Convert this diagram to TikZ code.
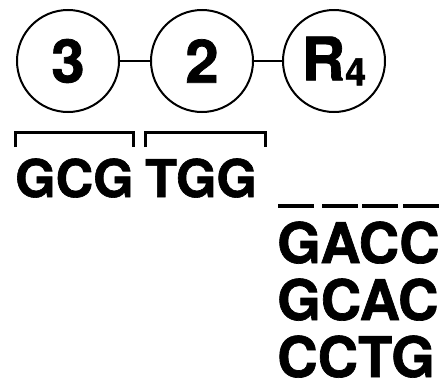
\documentclass[tikz,border=0pt]{standalone}
\usepackage{fontspec}
\setmainfont{TeX Gyre Heros}[BoldFeatures={FakeBold=1.2}]
\tikzset{
  ring/.style={circle,draw,line width=2pt,minimum size=102pt,inner sep=0pt,
    font=\bfseries\fontsize{60}{60}\selectfont},
  seq/.style={anchor=base west,inner sep=0pt,font=\bfseries\fontsize{52}{52}\selectfont},
  codon/.style={anchor=base west,inner sep=0pt,font=\bfseries\fontsize{56}{56}\selectfont},
  bracket/.style={line width=3pt},
  blank/.style={line width=4pt}
}
\begin{document}
\begin{tikzpicture}[x=1pt,y=-1pt]
  \useasboundingbox (0,0) rectangle (444,391);
  \draw
    (68,61) node[ring] (3){\raisebox{-4pt}{3}}
    (202,61) node[ring] (2){\raisebox{-4pt}{2}}
    (334,61) node[ring] (R){\raisebox{-4pt}{R\raisebox{-5pt}{\fontsize{38}{38}\selectfont 4}}};
  \begin{scope}[line width=2pt]
    \draw (3) to (2);
    \draw (2) to (R);
  \end{scope}
  % codons read off the chain
  \node[seq] (gcg) at (15,197) {GCG};
  \node[seq] (tgg) at (145,197) {TGG};
  \draw[bracket] (15,147) |- (133,132) -- (133,147);
  \draw[bracket] (145,147) |- (265,132) -- (265,147);
  % open position and candidates
  \foreach \x in {278,322,362,403}
    \draw[blank] (\x,206) -- ++(36,0);
  \node[codon] (c1) at (277,263) {GACC};
  \node[codon] (c2) at (277,320) {GCAC};
  \node[codon] (c3) at (277,377) {CCTG};
\end{tikzpicture}
\end{document}
